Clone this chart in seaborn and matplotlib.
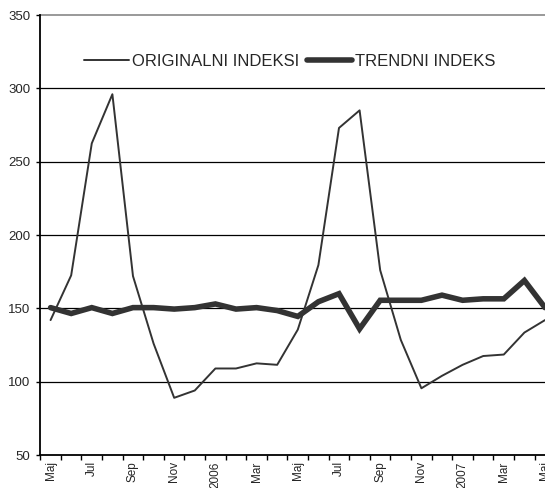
import pandas as pd
import matplotlib
matplotlib.use('Agg')
import matplotlib.pyplot as plt
import seaborn as sns

# Monthly data, Maj 2005 - Maj 2007
months = ['Maj', 'Jun', 'Jul', 'Avg', 'Sep', 'Okt', 'Nov', 'Dec', '2006', 'Feb', 'Mar', 'Apr',
          'Maj', 'Jun', 'Jul', 'Avg', 'Sep', 'Okt', 'Nov', 'Dec', '2007', 'Feb', 'Mar', 'Apr', 'Maj']
original = [142, 172.5, 262.5, 296, 172, 126, 89, 94, 109, 109, 112.5, 111.5,
            135.5, 179.5, 273, 285, 176, 128.5, 95.5, 104, 111.5, 117.5, 118.5, 133.5, 142]
trend = [150.5, 146.5, 150.5, 146.5, 150.5, 150.5, 149.5, 150.5, 153, 149.5, 150.5, 148.5,
         144.5, 154.5, 160, 136, 155.5, 155.5, 155.5, 159, 155.5, 156.5, 156.5, 169, 150.5]

label_orig = 'ORIGINALNI INDEKSI'
label_trend = 'TRENDNI INDEKS'

df = pd.DataFrame({'x': range(len(months)), 'orig': original, 'trend': trend})

sns.set_style('white')
plt.rcParams['font.family'] = ['Liberation Sans', 'DejaVu Sans']

fig = plt.figure(figsize=(5.45, 4.88), dpi=100)
ax = fig.add_axes([0.0739, 0.0676, 0.945, 0.9016])

line_col = '#333333'
sns.lineplot(data=df, x='x', y='orig', ax=ax, color=line_col, lw=1.4,
             label=label_orig, legend=False)
sns.lineplot(data=df, x='x', y='trend', ax=ax, color=line_col, lw=4,
             label=label_trend, legend=False, solid_joinstyle='miter')

ax.set_xlim(-0.5, len(months) - 0.5)
ax.set_ylim(50, 350)
ax.set_xlabel('')
ax.set_ylabel('')

# gridlines
for v in [100, 150, 200, 250, 300]:
    ax.axhline(v, color='black', lw=0.9, zorder=0)
ax.axhline(350, color='#888888', lw=1.2, zorder=0, clip_on=False)

for s in ['top', 'right']:
    ax.spines[s].set_visible(False)
for s in ['left', 'bottom']:
    ax.spines[s].set_color('black')
    ax.spines[s].set_linewidth(1.3)

ax.set_yticks([50, 100, 150, 200, 250, 300, 350])
ax.tick_params(axis='y', length=3, width=1, color='black', pad=4, labelsize=9.5, direction='out', left=True)

ax.set_xticks(list(range(0, len(months), 2)))
ax.set_xticklabels(months[::2], rotation=90, va='top', ha='center')
ax.set_xticks([k - 0.5 for k in range(len(months) + 1)], minor=True)
ax.tick_params(axis='x', which='major', length=0, pad=4.5, labelsize=8.5)
ax.tick_params(axis='x', which='minor', length=3.5, width=1, color='black', direction='out', bottom=True)

fig.legend(loc='center', bbox_to_anchor=(0.532, 0.875), ncol=2, frameon=False,
           fontsize=12, handlelength=2.7, handletextpad=0.18, columnspacing=0.48,
           borderpad=0, borderaxespad=0)

fig.savefig('out.png', dpi=100)
